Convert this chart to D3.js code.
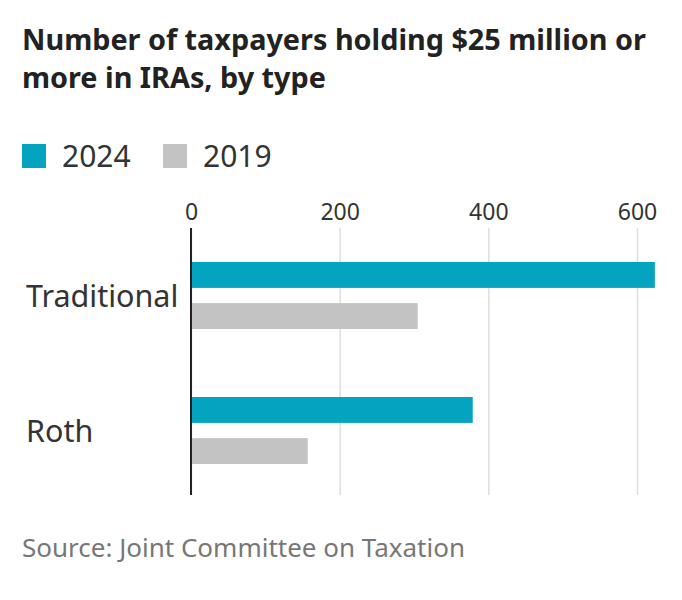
<!DOCTYPE html>
<html>
<head>
<meta charset="utf-8">
<script src="https://cdn.jsdelivr.net/npm/d3@7"></script>
<style>body{margin:0;background:#fff;font-family:"Noto Sans",sans-serif;}</style>
</head>
<body>
<script>
// data
var categories = ["Traditional", "Roth"];
var seriesNames = ["2024", "2019"];
var values2024 = [624, 379];
var values2019 = [305, 157];
var tickValues = [0, 200, 400, 600];
var colors = ["#04a3bf", "#c3c3c3"];

var svg = d3.select("body").append("svg").attr("width", 682).attr("height", 600);

svg.append("text").attr("x", 22).attr("y", 50).text("Number of taxpayers holding $25 million or")
  .style("font-size", "28.8px").style("font-weight", "bold").style("fill", "#222");
svg.append("text").attr("x", 22).attr("y", 88).text("more in IRAs, by type")
  .style("font-size", "28.8px").style("font-weight", "bold").style("fill", "#222");

// legend
seriesNames.forEach(function (s, i) {
  var lx = [22, 163][i];
  svg.append("rect").attr("x", lx).attr("y", 144).attr("width", 24).attr("height", 24).style("fill", colors[i]);
  svg.append("text").attr("x", lx + 40).attr("y", 167).text(s).style("font-size", "30px").style("fill", "#333");
});

var x = d3.scaleLinear().domain([0, 600]).range([191, 637]);
var yGroup = d3.scaleBand().domain(categories).range([228, 498]);
var ySub = d3.scaleBand().domain(seriesNames).range([-33.5, 33.5]).paddingInner(0.37);

// grid + ticks
var axis = svg.append("g").attr("transform", "translate(0,228)")
  .call(d3.axisTop(x).tickValues(tickValues).tickSize(-267).tickPadding(8));
axis.select(".domain").remove();
axis.selectAll(".tick line").style("stroke", "#ddd").style("stroke-width", 1.5);
axis.selectAll(".tick text").style("font-size", "23px").style("fill", "#333").style("font-family", "Noto Sans");

var data = [];
categories.forEach(function (c, i) {
  data.push({cat: c, s: "2024", v: values2024[i], col: colors[0]});
  data.push({cat: c, s: "2019", v: values2019[i], col: colors[1]});
});

svg.selectAll("rect.bar").data(data).enter().append("rect").attr("class", "bar")
  .attr("x", x(0))
  .attr("y", function (d) { return yGroup(d.cat) + yGroup.bandwidth() / 2 + ySub(d.s); })
  .attr("width", function (d) { return x(d.v) - x(0); })
  .attr("height", ySub.bandwidth())
  .style("fill", function (d) { return d.col; });

svg.append("line").attr("x1", x(0)).attr("x2", x(0)).attr("y1", 228).attr("y2", 495)
  .style("stroke", "#222").style("stroke-width", 2);

svg.selectAll("text.cat").data(categories).enter().append("text").attr("class", "cat")
  .attr("x", 26).attr("y", function (d) { return yGroup(d) + yGroup.bandwidth() / 2 + 11; })
  .text(function (d) { return d; }).style("font-size", "30.5px").style("fill", "#333");

svg.append("text").attr("x", 22).attr("y", 557).text("Source: Joint Committee on Taxation")
  .style("font-size", "26px").style("fill", "#777");
</script>
</body>
</html>
